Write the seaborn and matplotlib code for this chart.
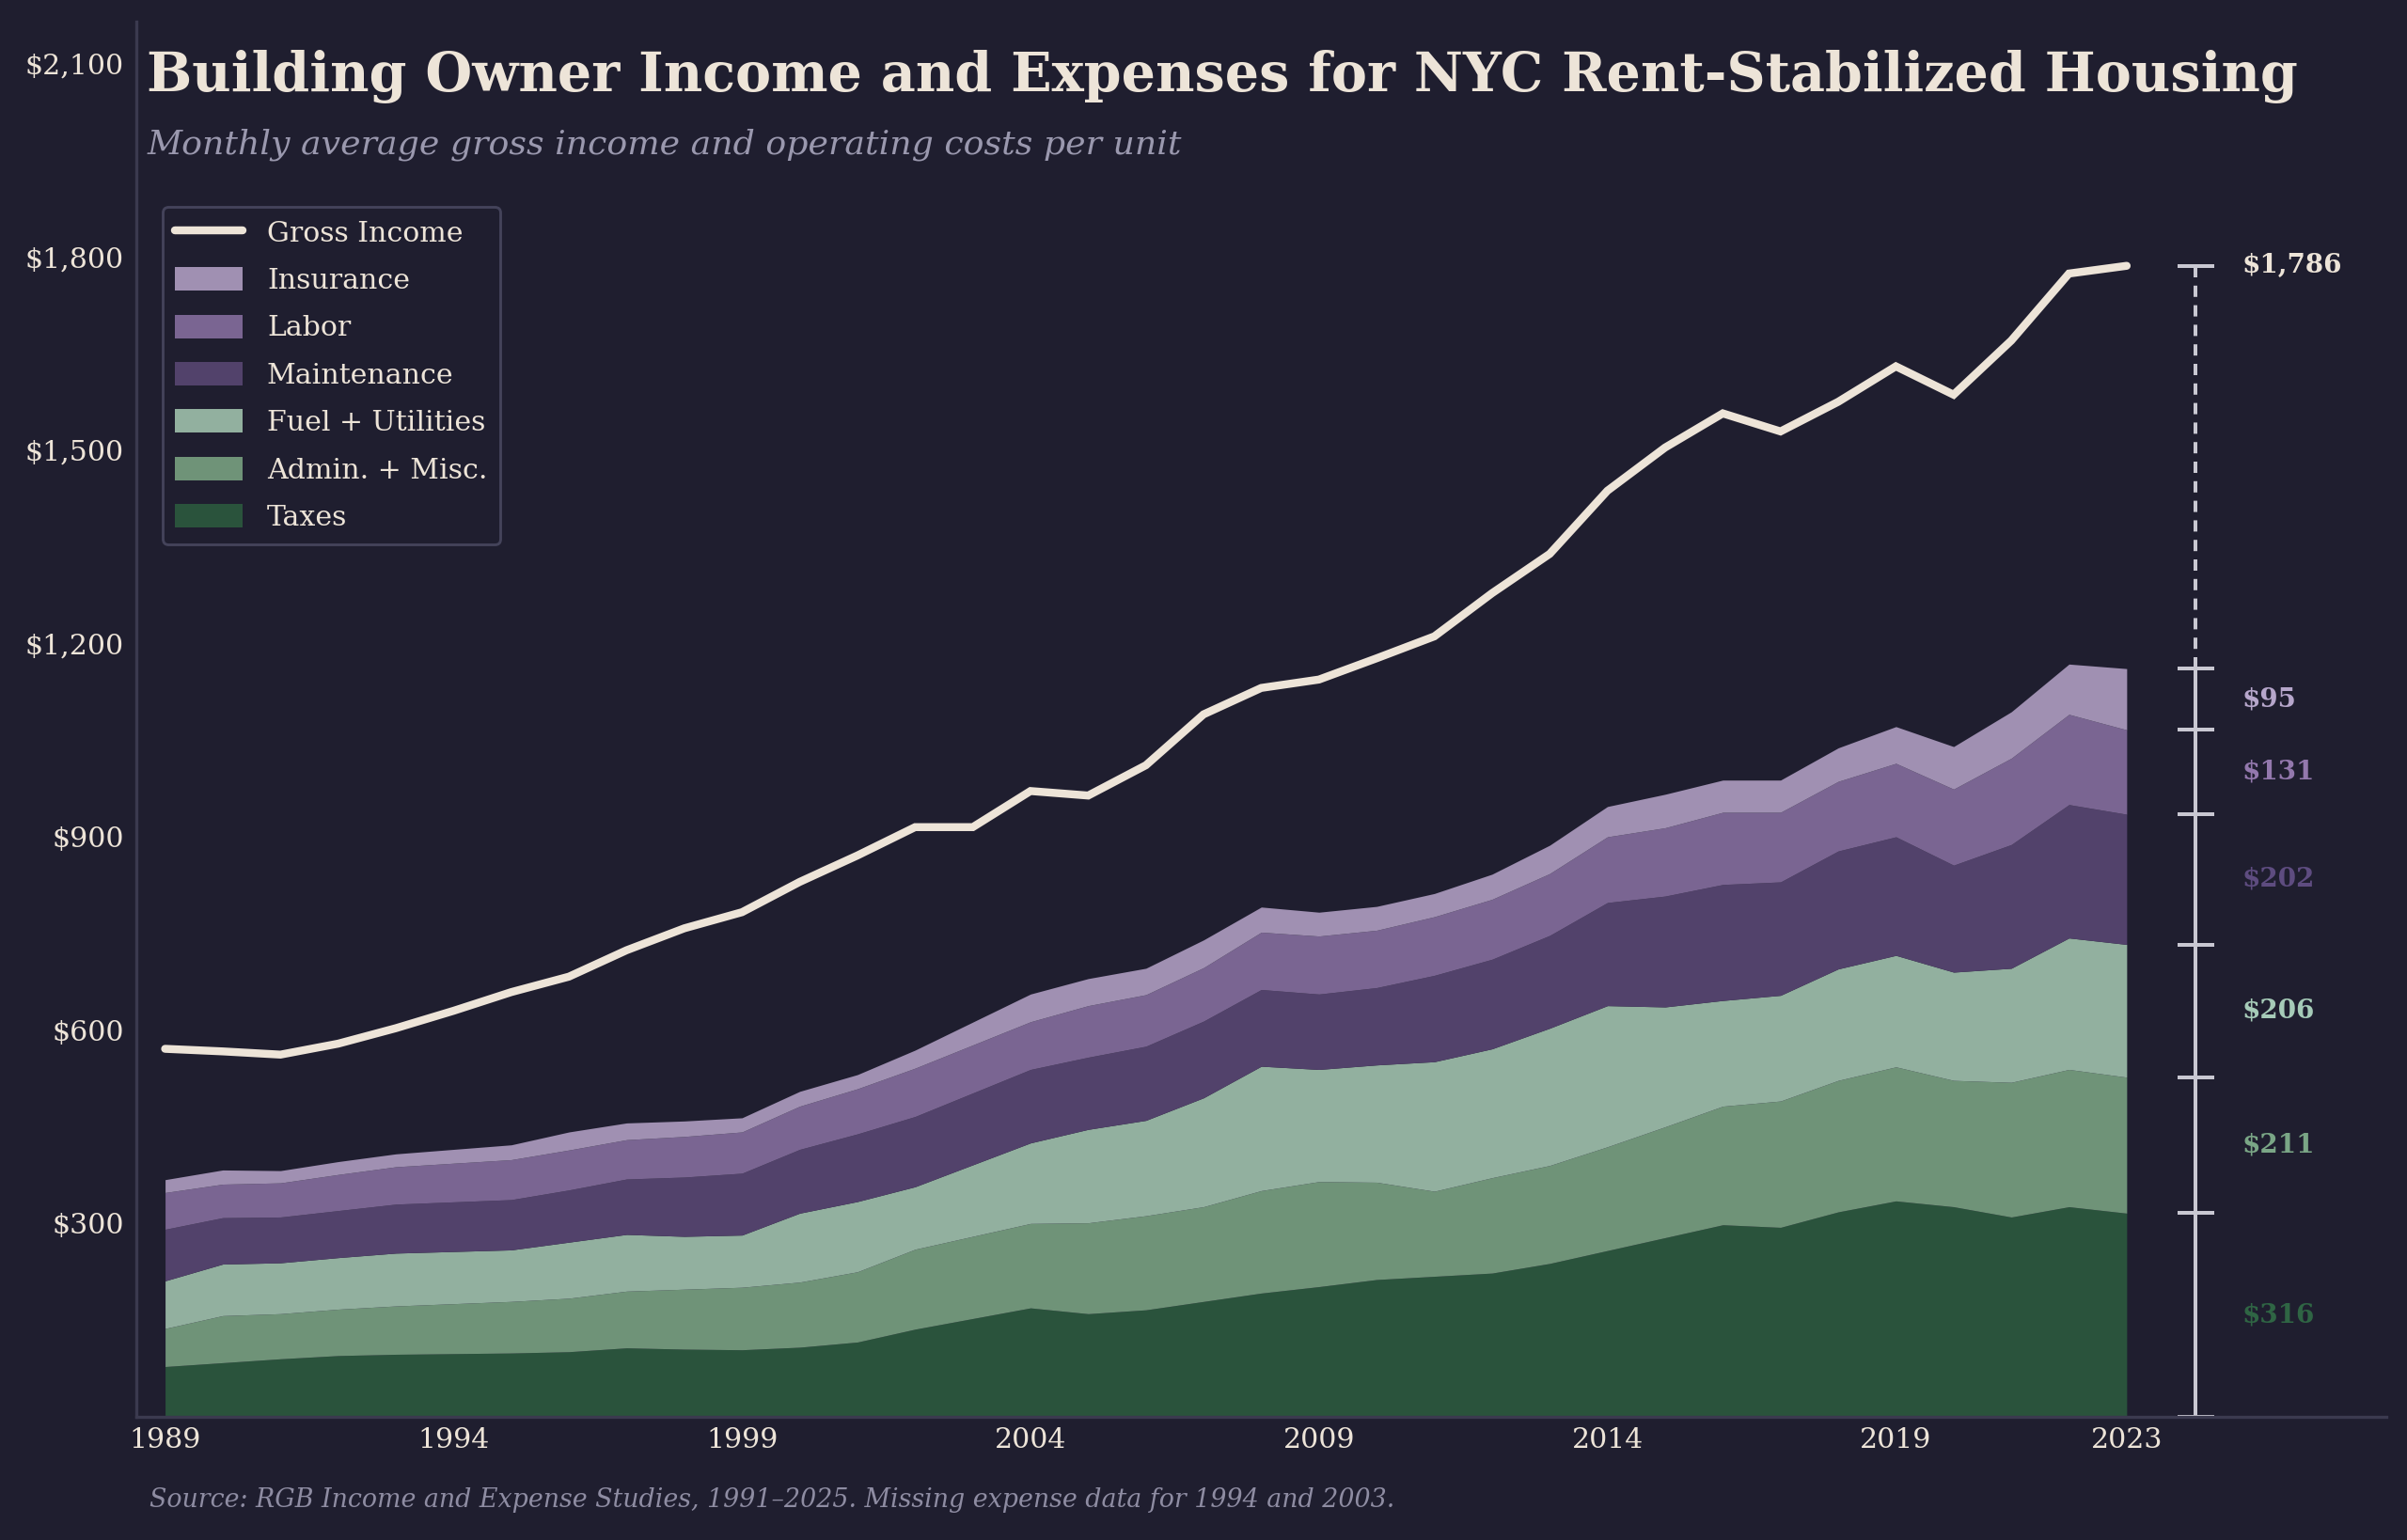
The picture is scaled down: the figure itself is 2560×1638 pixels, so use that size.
import numpy as np
import matplotlib
matplotlib.use("Agg")
import matplotlib.pyplot as plt
import seaborn as sns
from matplotlib.patches import Patch
from matplotlib.lines import Line2D
from matplotlib.ticker import FuncFormatter

# ======================
# Data (monthly $ per unit), 1994 and 2003 expenses missing
# ======================
nan = np.nan
years = list(range(1989, 2024))
gross_income = [571, 567, 562, 579, 603, 630, 659, 683, 724, 758,
                783, 830, 871, 915, 915, 971, 964, 1011, 1090, 1131,
                1144, 1177, 1211, 1278, 1339, 1437, 1504, 1557, 1529, 1575,
                1630, 1586, 1670, 1774, 1786]
taxes = [78, 84, 90, 95, 97, nan, 99, 101, 107, 105, 104, 108, 116, 136, nan,
         169, 160, 166, 179, 192, 202, 213, 218, 223, 238, 258, 278, 298, 294,
         318, 335, 326, 310, 326, 316]
admin = [59, 73, 70, 72, 75, nan, 80, 83, 88, 93, 97, 101, 109, 124, nan,
         131, 141, 146, 147, 159, 163, 151, 132, 148, 152, 161, 172, 184, 196,
         204, 208, 196, 209, 213, 211]
fuel = [74, 80, 79, 80, 82, nan, 80, 87, 88, 82, 81, 107, 109, 97, nan,
        125, 145, 148, 169, 193, 174, 182, 201, 200, 213, 219, 186, 164, 164,
        173, 173, 168, 177, 204, 206]
maintenance = [80, 72, 71, 73, 76, nan, 78, 81, 86, 92, 96, 99, 105, 109, nan,
               114, 112, 115, 119, 119, 117, 120, 134, 139, 144, 160, 172, 180, 176,
               183, 184, 166, 192, 207, 202]
labor = [57, 52, 53, 56, 58, nan, 62, 62, 61, 63, 64, 67, 70, 75, nan,
         74, 80, 80, 83, 89, 90, 89, 91, 93, 96, 102, 106, 112, 108,
         108, 114, 118, 134, 140, 131]
insurance = [20, 22, 19, 20, 20, nan, 23, 28, 26, 24, 22, 23, 22, 28, nan,
             43, 42, 41, 43, 39, 37, 37, 36, 39, 44, 47, 52, 50, 50,
             52, 57, 66, 72, 78, 95]

x_ticks = [1989, 1994, 1999, 2004, 2009, 2014, 2019, 2023]
y_ticks = [300, 600, 900, 1200, 1500, 1800, 2100]

# bottom -> top
layer_names = ["Taxes", "Admin. + Misc.", "Fuel + Utilities", "Maintenance", "Labor", "Insurance"]
layer_values = [taxes, admin, fuel, maintenance, labor, insurance]
layer_colors = ["#2a533c", "#6f9378", "#92b09f", "#52426b", "#7a6592", "#a090b2"]
label_colors = ["#2f6544", "#7aa686", "#a6cbb8", "#5e4c80", "#9378ad", "#b6a6cb"]

BG = "#1f1e2f"
CREAM = "#ede4d8"
SPINE = "#3b3a4f"
BRACKET = "#c9c8d2"

# ======================
# Style
# ======================
sns.set_theme(style="dark", rc={"axes.facecolor": BG, "figure.facecolor": BG})
plt.rcParams["font.family"] = ["DejaVu Serif"]

fig = plt.figure(figsize=(16, 10.2375), dpi=160)
ax = fig.add_axes([0.0566, 0.080, 0.9348, 0.906])
ax.set_facecolor(BG)

# stacked expenses (drop missing years)
yrs = np.array(years)
mask = ~np.isnan(np.array(taxes))
ax.stackplot(yrs[mask], *[np.array(v)[mask] for v in layer_values],
             colors=layer_colors, linewidth=0)

# gross income line
sns.lineplot(x=years, y=gross_income, ax=ax, color=CREAM, linewidth=3.8,
             solid_capstyle="round", solid_joinstyle="miter", zorder=5)

# ======================
# Bracket with last-year values
# ======================
last = [v[-1] for v in layer_values]
cum = np.concatenate([[0], np.cumsum(last)])
bx = 2024.2
cap = 0.32
ax.plot([bx, bx], [0, cum[-1]], color=BRACKET, lw=1.8, solid_capstyle="butt")
ax.plot([bx, bx], [cum[-1], gross_income[-1]], color=BRACKET, lw=1.8,
        linestyle=(0, (3, 2.2)))
for c in list(cum) + [gross_income[-1]]:
    ax.plot([bx - cap, bx + cap], [c, c], color=BRACKET, lw=1.8, solid_capstyle="butt")
for i, v in enumerate(last):
    ax.text(2025.0, (cum[i] + cum[i + 1]) / 2, f"${v:,.0f}", color=label_colors[i],
            fontsize=12.5, fontweight="bold", va="center", ha="left")
ax.text(2025.0, gross_income[-1], f"${gross_income[-1]:,.0f}", color=CREAM,
        fontsize=12.5, fontweight="bold", va="center", ha="left")

# ======================
# Axes
# ======================
ax.set_xlim(1988.5, 2027.5)
ax.set_ylim(0, 2165)
ax.set_xticks(x_ticks)
ax.set_yticks(y_ticks)
ax.yaxis.set_major_formatter(FuncFormatter(lambda v, p: f"${v:,.0f}"))
ax.tick_params(axis="both", length=0, colors=CREAM, labelsize=13.5)
ax.tick_params(axis="y", pad=6)
ax.tick_params(axis="x", pad=5)
ax.grid(False)
for s in ["top", "right"]:
    ax.spines[s].set_visible(False)
for s in ["left", "bottom"]:
    ax.spines[s].set_visible(True)
    ax.spines[s].set_color(SPINE)
    ax.spines[s].set_linewidth(1.5)
ax.set_xlabel("")
ax.set_ylabel("")

# legend
handles = [Line2D([0], [0], color=CREAM, lw=3.8, solid_capstyle="round")]
labels = ["Gross Income"]
for name, col in zip(layer_names[::-1], layer_colors[::-1]):
    handles.append(Patch(facecolor=col, edgecolor="none"))
    labels.append(name)
leg = ax.legend(handles, labels, loc="upper left", bbox_to_anchor=(0.0117, 0.867),
                borderaxespad=0, frameon=True, fontsize=13.5, labelcolor=CREAM,
                facecolor=BG, edgecolor="#44435a", framealpha=1,
                handlelength=2.4, handleheight=0.9, labelspacing=0.72,
                borderpad=0.45, handletextpad=0.85)
leg.get_frame().set_linewidth(1.3)

# titles
fig.text(0.061, 0.950, "Building Owner Income and Expenses for NYC Rent-Stabilized Housing",
         color=CREAM, fontsize=25.7, fontweight="bold", va="center", ha="left")
fig.text(0.061, 0.906, "Monthly average gross income and operating costs per unit",
         color="#9a98ae", fontsize=16.3, fontstyle="italic", va="center", ha="left")
fig.text(0.062, 0.026, "Source: RGB Income and Expense Studies, 1991\u20132025. Missing expense data for 1994 and 2003.",
         color="#8e8ca2", fontsize=12.1, fontstyle="italic", va="center", ha="left")

fig.savefig("out.png", dpi=160, facecolor=BG)
